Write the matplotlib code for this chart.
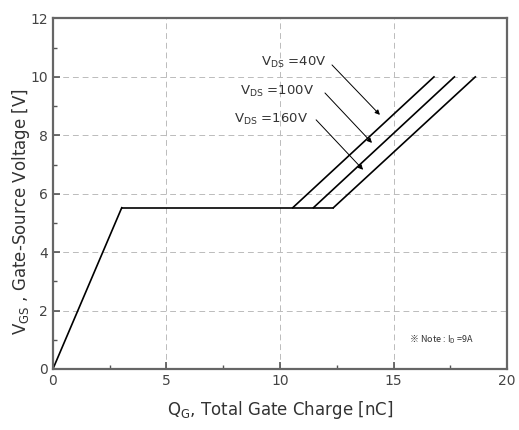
import matplotlib
matplotlib.use("Agg")
import matplotlib.pyplot as plt
from matplotlib.ticker import MultipleLocator

# 栅极电荷曲线（读图估计值）
rise_q = [0.0, 3.03]
rise_v = [0.0, 5.52]
plateau_end = [10.56, 11.47, 12.35]
top_q = [16.78, 17.68, 18.6]
v_plateau = 5.52
v_top = 10.0
labels = ["$\\mathregular{V_{DS}}$ =40V", "$\\mathregular{V_{DS}}$ =100V", "$\\mathregular{V_{DS}}$ =160V"]
arrow_tip = [(14.4, 8.7), (14.05, 7.74), (13.66, 6.82)]
arrow_tail = [(12.29, 10.41), (11.98, 9.45), (11.59, 8.53)]
text_pos = [(12.05, 10.48), (11.5, 9.5), (11.25, 8.55)]

fig = plt.figure(figsize=(5.19, 4.30), dpi=100)
ax = fig.add_axes([0.102, 0.142, 0.875, 0.815])

ax.plot(rise_q, rise_v, color='black', lw=1.2)
ax.plot([rise_q[1], plateau_end[-1]], [v_plateau, v_plateau], color='black', lw=1.2)
for q0, q1 in zip(plateau_end, top_q):
    ax.plot([q0, q1], [v_plateau, v_top], color='black', lw=1.2)

for lab, tip, tail, tp in zip(labels, arrow_tip, arrow_tail, text_pos):
    ax.annotate("", xy=tip, xytext=tail,
                arrowprops=dict(arrowstyle="-|>", color='black', lw=0.7,
                                mutation_scale=7, shrinkA=0, shrinkB=0))
    ax.text(tp[0], tp[1], lab, ha='right', va='center', fontsize=9.5, color='#333333')

ax.text(15.7, 0.9, "※ Note : $\\mathregular{I_D}$ =9A", fontsize=6.5, color='#333333',
        family=['Noto Sans CJK SC', 'DejaVu Sans'])

ax.set_xlim(0, 20)
ax.set_ylim(0, 12)
ax.xaxis.set_major_locator(MultipleLocator(5))
ax.xaxis.set_minor_locator(MultipleLocator(2.5))
ax.yaxis.set_major_locator(MultipleLocator(2))
ax.yaxis.set_minor_locator(MultipleLocator(1))
ax.tick_params(which='both', direction='in', colors='#555555', labelsize=10)
ax.tick_params(which='major', length=5, width=1.2)
ax.tick_params(which='minor', length=3, width=1)
for tl in ax.get_xticklabels() + ax.get_yticklabels():
    tl.set_color('#444444')
for s in ax.spines.values():
    s.set_linewidth(1.6)
    s.set_color('#666666')

ax.grid(which='major', color='#bbbbbb', linestyle=(0, (6, 4)), lw=0.7)

ax.set_xlabel("$\\mathregular{Q_G}$, Total Gate Charge [nC]", fontsize=12, color='#333333', labelpad=8)
ax.set_ylabel("$\\mathregular{V_{GS}}$ , Gate-Source Voltage [V]", fontsize=12, color='#333333')
ax.yaxis.set_label_coords(-0.047, 0.45)

fig.savefig("out.png", dpi=100)
